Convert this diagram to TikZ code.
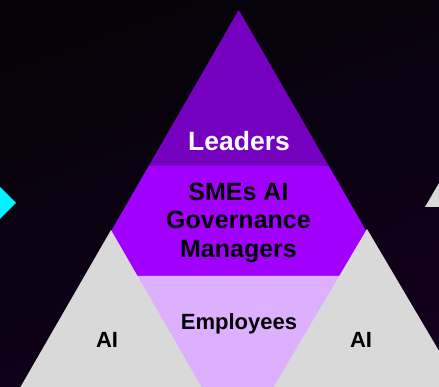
\documentclass[tikz,border=0pt]{standalone}
\usepackage{fontspec}
\setmainfont{Liberation Sans}
\definecolor{bgtop}{HTML}{050308}
\definecolor{bgbot}{HTML}{12001D}
\definecolor{leadc}{HTML}{7500C0}
\definecolor{smec}{HTML}{A100FF}
\definecolor{empc}{HTML}{DDAFFF}
\definecolor{greyc}{HTML}{D9D9D9}
\definecolor{cyanc}{HTML}{00F2FF}
\tikzset{
  lbl/.style={font=\bfseries, align=center, inner sep=0pt, anchor=base},
}
\begin{document}
\begin{tikzpicture}[x=1pt,y=-1pt]
\useasboundingbox (0,0) rectangle (439,387);
\clip (0,0) rectangle (439,387);
% background
\shade[top color=bgtop, bottom color=bgbot, shading angle=20] (0,0) rectangle (439,387);
% big pyramid bands
\fill[leadc] (238.7,10) -- (148.7,166) -- (328.7,166) -- cycle;
\fill[smec] (148.7,166) -- (85.2,276) -- (392.2,276) -- (328.7,166) -- cycle;
\fill[empc] (85.2,276) -- (13.7,400) -- (463.7,400) -- (392.2,276) -- cycle;
% grey side triangles
\fill[greyc] (111,230) -- (13,400) -- (209,400) -- cycle;
\fill[greyc] (367,229) -- (266,400) -- (468,400) -- cycle;
% partial shapes at edges
\fill[cyanc] (-0.5,186.5) -- (16,203) -- (-0.5,219.5) -- (-17,203) -- cycle;
\fill[greyc] (439,183) -- (425,207) -- (453,207) -- cycle;
% texts
\node[lbl, white, font=\fontsize{26.5}{28}\bfseries] (leaders) at (239,151) {Leaders};
\node[lbl, black, font=\fontsize{25}{28.5}\bfseries, anchor=center] (smes) at (238.5,222.5) {SMEs AI\\Governance\\Managers};
\node[lbl, black, font=\fontsize{22}{24}\bfseries] (emp) at (239,330) {Employees};
\node[lbl, black, font=\fontsize{22}{24}\bfseries] (ail) at (107,347) {AI};
\node[lbl, black, font=\fontsize{22}{24}\bfseries] (air) at (361,347) {AI};
\end{tikzpicture}
\end{document}
